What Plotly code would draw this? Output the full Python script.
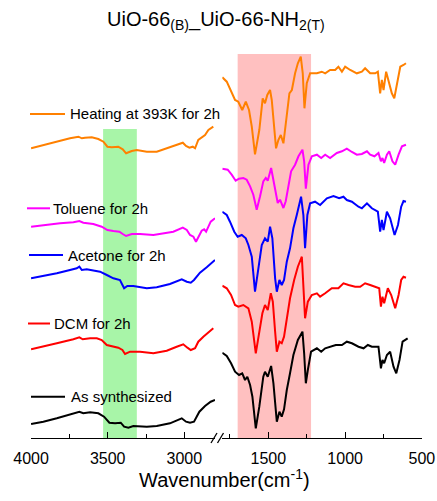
import plotly.graph_objects as go

# ---------------- data (wavenumber in cm^-1, stacked transmittance in a.u.) ----------------
# Left panel (4000-2800 cm-1)
wn_l_black = [4000,3920,3832,3735,3685,3659,3615,3561,3524,3489,3452,3415,3393,3365,3333,3245,3180,3094,3017,2989,2963,2937,2902,2865,2828,2800]
t_l_black = [14,16.3,19.7,23.7,26.3,24.7,25.7,24.7,21.3,15.3,14.7,15.3,11.3,10.3,12,11.3,12,14.7,19.7,16.3,15.3,16.3,26.3,32,36.3,38]

wn_l_red = [4000,3920,3832,3724,3685,3663,3615,3571,3539,3506,3463,3431,3404,3387,3354,3289,3202,3115,3050,3007,2980,2958,2930,2909,2876,2843,2811]
t_l_red = [88.7,91.3,94.7,98.7,100.7,98.7,99.7,99.7,98,93,91.3,90.3,88,84,86.3,86.3,84.7,87.3,91.3,93.7,90.3,88,89.7,96.3,101.3,105.3,109.7]

wn_l_blue = [4000,3920,3832,3746,3702,3685,3669,3637,3583,3550,3506,3463,3420,3393,3372,3333,3245,3180,3094,3017,2984,2958,2937,2898,2854,2800]
t_l_blue = [159.7,162,164.7,168,169.7,171.3,168,168.7,167.3,166.3,163,159.7,158,149.7,152,152,149.7,150.7,154,158.7,156.3,155.3,158,165.3,170.7,178]

wn_l_mag = [4000,3920,3811,3724,3685,3659,3594,3539,3502,3463,3424,3402,3380,3343,3289,3202,3137,3072,3010,2984,2963,2941,2924,2909,2887,2871,2858,2843,2828,2800]
t_l_mag = [211.3,213,214.7,215.7,217,215.3,214,211.3,208,207,206.3,204,202,204,204,203,204.7,206.3,210.3,208,203,201.3,196.3,201.3,207.3,208.7,206.3,211.3,216.3,219.7]

wn_l_orange = [4000,3920,3832,3746,3691,3669,3648,3604,3561,3528,3502,3474,3431,3402,3380,3343,3311,3245,3180,3115,3061,3010,2989,2967,2945,2930,2909,2887,2865,2843,2811]
t_l_orange = [289.7,293,296.3,299.7,301.3,299.7,300.3,300.7,299,296.3,291.3,290.7,291.3,288.7,284.7,287,288,286.3,286.3,289.7,292,295.3,292,290.3,291.3,289.7,298,300.7,303,308,311.3]

# Right panel (1800-500 cm-1)
wn_r_black = [1800,1771,1743,1717,1691,1670,1652,1637,1619,1604,1582,1559,1533,1522,1504,1482,1467,1445,1428,1413,1398,1380,1359,1337,1308,1278,1267,1256,1243,1222,1184,1156,1130,1098,1061,1021,989,956,913,880,852,826,783,767,757,746,728,707,685,667,646,626,609,593]
t_r_black = [85.3,82,74.7,66.3,63,64.7,58,61.3,53,41.3,9.7,31.3,61.3,66.3,61.3,72,54.7,16.3,26.3,21.3,28.7,48,64.7,83,98,106.3,84.7,54.7,68,86.3,89.7,86.3,89.7,91.3,93,93,96.3,94.7,91.3,89.7,93,91.3,91.3,69.7,78,74.7,83,86.3,71.3,64.7,78,96.3,98,99.7]

wn_r_red = [1800,1771,1743,1717,1696,1663,1630,1608,1582,1561,1539,1522,1504,1484,1471,1456,1445,1428,1413,1398,1380,1359,1332,1308,1282,1272,1261,1243,1217,1184,1163,1130,1087,1044,1011,978,935,902,870,837,804,778,767,757,746,722,700,674,652,635,620,604]
t_r_red = [152.3,149.7,143,133,131.3,133,129.7,116.3,84.7,103,124.7,133,128,144.7,136.3,106.3,86.3,96.3,94.7,101.3,119.7,139.7,158,171.3,181.3,156.3,119.7,136.3,143,144.7,141.3,144.7,149.7,149.7,154.7,153,151.3,151.3,154.7,153,151.3,149.7,131.3,141.3,134.7,149.7,143,129.7,143,158,161.3,160.3]

wn_r_blue = [1800,1771,1750,1722,1700,1673,1647,1630,1608,1587,1565,1543,1522,1504,1489,1474,1456,1445,1428,1413,1398,1380,1359,1337,1315,1287,1272,1261,1246,1228,1196,1163,1119,1076,1039,1011,989,956,913,891,858,826,787,772,761,750,728,707,678,656,635,620,604]
t_r_blue = [226.3,223,216.3,206.3,201.3,203,199.7,193,181.3,146.3,169.7,193,199.7,196.3,211.3,199.7,159.7,146.3,158,153,158,176.3,189.7,209.7,223,241.3,223,189.7,223,234.7,236.3,233,239.7,242,239.7,241.3,238,236.3,231.3,229.7,234.7,229.7,226.3,206.3,218,208,226.3,219.7,203,213,231.3,237,236.3]

wn_r_mag = [1800,1765,1739,1713,1691,1663,1641,1619,1598,1576,1554,1533,1517,1504,1482,1467,1450,1439,1424,1413,1402,1387,1370,1352,1326,1304,1278,1267,1256,1239,1217,1184,1156,1130,1098,1054,1021,989,956,924,891,858,837,809,783,767,757,746,728,713,692,674,652,630,604]
t_r_mag = [269.3,268.3,263.3,257.3,259.3,260,258.3,251.7,243.3,228.3,241.7,256.7,260,257.3,270,256.7,243.3,235,238.3,234,230,236.7,250,266.7,273.3,281.7,288.3,276.7,249.3,273.3,281.7,283.3,280,283.3,280,285,286.7,289.3,286,283.3,284,286.7,283.3,281.7,285,276.7,280,275,283.3,286.7,276.7,273.3,283.3,291.7,293.3]

wn_r_orange = [1800,1771,1717,1696,1670,1647,1626,1608,1587,1559,1537,1522,1507,1489,1478,1463,1450,1435,1419,1402,1385,1363,1347,1326,1308,1289,1276,1265,1250,1228,1184,1152,1130,1098,1065,1044,1021,1000,967,924,891,870,837,804,787,772,761,750,733,718,696,680,663,641,620,604]
t_r_orange = [360.7,356.3,338,336.3,328,336.3,328,311.3,283.7,308,339.7,334.7,343,348,338,311.3,289.7,298,303,294.7,314.7,344.7,348,364.7,374.7,381.3,364.7,329.7,354.7,364.7,364.7,366.3,364.7,368,368,371.3,366.3,371.3,368,364.7,366.3,369.7,364.7,364.7,366.3,344.7,358,348,366.3,358,344.7,339.7,354.7,371.3,373,374.7]

series_names = ["As synthesized", "DCM for 2h", "Acetone for 2h", "Toluene for 2h", "Heating at 393K for 2h"]
series_colors = ["#000000", "#FF0000", "#0000FF", "#FF00FF", "#FF8000"]
left_x = [wn_l_black, wn_l_red, wn_l_blue, wn_l_mag, wn_l_orange]
left_y = [t_l_black, t_l_red, t_l_blue, t_l_mag, t_l_orange]
right_x = [wn_r_black, wn_r_red, wn_r_blue, wn_r_mag, wn_r_orange]
right_y = [t_r_black, t_r_red, t_r_blue, t_r_mag, t_r_orange]

green_band = [3530, 3310, 309]   # x0, x1, top (a.u.)
pink_band = [1700, 1222, 384]

# ---------------- geometry helpers (pixels -> paper) ----------------
W, H = 437, 501
ML, MR, MT, MB = 31, 15, 50, 63
PW, PH = W - ML - MR, H - MT - MB


def px(p):
    return (p - ML) / PW


def py(q):
    return (H - MB - q) / PH


FONT = "Liberation Sans, Arial, Helvetica, sans-serif"
LW = 2

fig = go.Figure()
for i in range(5):
    fig.add_trace(go.Scatter(x=left_x[i], y=left_y[i], xaxis="x", yaxis="y", mode="lines",
                             line=dict(color=series_colors[i], width=LW), showlegend=False,
                             name=series_names[i]))
    fig.add_trace(go.Scatter(x=right_x[i], y=right_y[i], xaxis="x2", yaxis="y", mode="lines",
                             line=dict(color=series_colors[i], width=LW), showlegend=False,
                             name=series_names[i]))

shapes = [
    dict(type="rect", xref="x", yref="y", x0=green_band[0], x1=green_band[1], y0=0, y1=green_band[2],
         fillcolor="#A8F5A8", line=dict(width=0), layer="below"),
    dict(type="rect", xref="x2", yref="y", x0=pink_band[0], x1=pink_band[1], y0=0, y1=pink_band[2],
         fillcolor="#FFC0C0", line=dict(width=0), layer="below"),
]
# axis break marks
for cx in (214, 220.5):
    shapes.append(dict(type="line", xref="paper", yref="paper",
                       x0=px(cx - 3), y0=py(443), x1=px(cx + 3), y1=py(433),
                       line=dict(color="black", width=1.3)))

# label legend-like entries: (line x0, line x1, y, text x)
label_pos = [(31, 65, 396.7, 69), (28, 50, 323.5, 52), (29, 63, 255, 66), (27, 50, 208.3, 51), (30, 65, 114, 68)]
annotations = []
for i, (lx0, lx1, ly, tx) in enumerate(label_pos):
    shapes.append(dict(type="line", xref="paper", yref="paper", x0=px(lx0), x1=px(lx1), y0=py(ly), y1=py(ly),
                       line=dict(color=series_colors[i], width=LW)))
    annotations.append(dict(xref="paper", yref="paper", x=px(tx), y=py(ly), xanchor="left", yanchor="middle",
                            text=series_names[i], showarrow=False, font=dict(family=FONT, size=15, color="black")))

annotations.append(dict(xref="paper", yref="paper", x=px(224), y=py(478), xanchor="center", yanchor="middle",
                        text="Wavenumber(cm<sup>-1</sup>)", showarrow=False,
                        font=dict(family=FONT, size=20, color="black")))
annotations.append(dict(xref="paper", yref="paper", x=px(216), y=py(20), xanchor="center", yanchor="middle",
                        text="UiO-66<sub>(B)</sub>_UiO-66-NH<sub>2(T)</sub>", showarrow=False,
                        font=dict(family=FONT, size=20, color="black")))

axis_common = dict(showline=True, linecolor="black", linewidth=1.3, ticks="inside", ticklen=6, tickwidth=1.3,
                   tickcolor="black", showgrid=False, zeroline=False, anchor="y", automargin=False,
                   tickfont=dict(family=FONT, size=16, color="black"), ticklabelstandoff=6,
                   minor=dict(ticks="inside", ticklen=3.5, tickwidth=1.3, tickcolor="black", dtick=250, tick0=0,
                              showgrid=False))

fig.update_layout(
    width=W, height=H, margin=dict(l=ML, r=MR, t=MT, b=MB, autoexpand=False),
    paper_bgcolor="white", plot_bgcolor="white",
    xaxis=dict(domain=[0, px(215)], range=[4000.5, 2800], dtick=500, tick0=0, **axis_common),
    xaxis2=dict(domain=[px(222.3), 1], range=[1800, 499.5], dtick=500, tick0=0, **axis_common),
    yaxis=dict(visible=False, range=[0, PH], fixedrange=True, automargin=False),
    shapes=shapes, annotations=annotations, showlegend=False,
)

fig.write_html("out.html")
